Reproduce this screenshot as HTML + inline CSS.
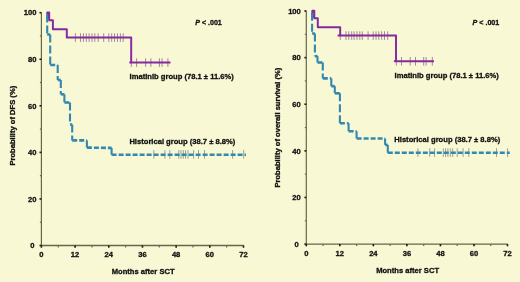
<!DOCTYPE html>
<html><head><meta charset="utf-8"><title>Kaplan-Meier curves</title>
<style>
html,body{margin:0;padding:0;background:#f8f8d4;}
body{width:520px;height:282px;overflow:hidden;}
svg{display:block;will-change:transform;}
</style></head>
<body>
<svg width="520" height="282" viewBox="0 0 520 282">
<rect width="520" height="282" fill="#f8f8d4"/>
<line x1="41.4" y1="12.4" x2="41.4" y2="245.5" stroke="#66664a" stroke-width="1.2"/>
<line x1="41.4" y1="245.5" x2="243.8" y2="245.5" stroke="#66664a" stroke-width="1.35"/>
<line x1="39.5" y1="245.5" x2="41.4" y2="245.5" stroke="#1a1a10" stroke-width="1.6"/>
<line x1="39.9" y1="222.22" x2="41.4" y2="222.22" stroke="#6a6a55" stroke-width="1.2"/>
<line x1="39.5" y1="198.94" x2="41.4" y2="198.94" stroke="#1a1a10" stroke-width="1.6"/>
<line x1="39.9" y1="175.66" x2="41.4" y2="175.66" stroke="#6a6a55" stroke-width="1.2"/>
<line x1="39.5" y1="152.38" x2="41.4" y2="152.38" stroke="#1a1a10" stroke-width="1.6"/>
<line x1="39.9" y1="129.1" x2="41.4" y2="129.1" stroke="#6a6a55" stroke-width="1.2"/>
<line x1="39.5" y1="105.82" x2="41.4" y2="105.82" stroke="#1a1a10" stroke-width="1.6"/>
<line x1="39.9" y1="82.54" x2="41.4" y2="82.54" stroke="#6a6a55" stroke-width="1.2"/>
<line x1="39.5" y1="59.26" x2="41.4" y2="59.26" stroke="#1a1a10" stroke-width="1.6"/>
<line x1="39.9" y1="35.98" x2="41.4" y2="35.98" stroke="#6a6a55" stroke-width="1.2"/>
<line x1="39.5" y1="12.7" x2="41.4" y2="12.7" stroke="#1a1a10" stroke-width="1.6"/>
<line x1="41.4" y1="245.5" x2="41.4" y2="247.7" stroke="#1a1a10" stroke-width="1.6"/>
<line x1="58.24" y1="245.5" x2="58.24" y2="247.5" stroke="#6a6a55" stroke-width="1.2"/>
<line x1="75.08" y1="245.5" x2="75.08" y2="247.7" stroke="#1a1a10" stroke-width="1.6"/>
<line x1="91.92" y1="245.5" x2="91.92" y2="247.5" stroke="#6a6a55" stroke-width="1.2"/>
<line x1="108.77" y1="245.5" x2="108.77" y2="247.7" stroke="#1a1a10" stroke-width="1.6"/>
<line x1="125.61" y1="245.5" x2="125.61" y2="247.5" stroke="#6a6a55" stroke-width="1.2"/>
<line x1="142.45" y1="245.5" x2="142.45" y2="247.7" stroke="#1a1a10" stroke-width="1.6"/>
<line x1="159.29" y1="245.5" x2="159.29" y2="247.5" stroke="#6a6a55" stroke-width="1.2"/>
<line x1="176.13" y1="245.5" x2="176.13" y2="247.7" stroke="#1a1a10" stroke-width="1.6"/>
<line x1="192.97" y1="245.5" x2="192.97" y2="247.5" stroke="#6a6a55" stroke-width="1.2"/>
<line x1="209.82" y1="245.5" x2="209.82" y2="247.7" stroke="#1a1a10" stroke-width="1.6"/>
<line x1="226.66" y1="245.5" x2="226.66" y2="247.5" stroke="#6a6a55" stroke-width="1.2"/>
<line x1="243.5" y1="245.5" x2="243.5" y2="247.7" stroke="#1a1a10" stroke-width="1.6"/>
<text x="34.4" y="248.2" text-anchor="end" font-family="Liberation Sans, sans-serif" font-weight="bold" stroke="#111" stroke-width="0.3" font-size="7.6" fill="#111">0</text>
<text x="36.4" y="201.64" text-anchor="end" font-family="Liberation Sans, sans-serif" font-weight="bold" stroke="#111" stroke-width="0.3" font-size="7.6" fill="#111">20</text>
<text x="36.4" y="155.08" text-anchor="end" font-family="Liberation Sans, sans-serif" font-weight="bold" stroke="#111" stroke-width="0.3" font-size="7.6" fill="#111">40</text>
<text x="36.4" y="108.52" text-anchor="end" font-family="Liberation Sans, sans-serif" font-weight="bold" stroke="#111" stroke-width="0.3" font-size="7.6" fill="#111">60</text>
<text x="36.4" y="61.96" text-anchor="end" font-family="Liberation Sans, sans-serif" font-weight="bold" stroke="#111" stroke-width="0.3" font-size="7.6" fill="#111">80</text>
<text x="36.4" y="15.4" text-anchor="end" font-family="Liberation Sans, sans-serif" font-weight="bold" stroke="#111" stroke-width="0.3" font-size="7.6" fill="#111">100</text>
<text x="41.4" y="257.3" text-anchor="middle" font-family="Liberation Sans, sans-serif" font-weight="bold" stroke="#111" stroke-width="0.3" font-size="7.6" fill="#111">0</text>
<text x="75.08" y="257.3" text-anchor="middle" font-family="Liberation Sans, sans-serif" font-weight="bold" stroke="#111" stroke-width="0.3" font-size="7.6" fill="#111">12</text>
<text x="108.77" y="257.3" text-anchor="middle" font-family="Liberation Sans, sans-serif" font-weight="bold" stroke="#111" stroke-width="0.3" font-size="7.6" fill="#111">24</text>
<text x="142.45" y="257.3" text-anchor="middle" font-family="Liberation Sans, sans-serif" font-weight="bold" stroke="#111" stroke-width="0.3" font-size="7.6" fill="#111">36</text>
<text x="176.13" y="257.3" text-anchor="middle" font-family="Liberation Sans, sans-serif" font-weight="bold" stroke="#111" stroke-width="0.3" font-size="7.6" fill="#111">48</text>
<text x="209.82" y="257.3" text-anchor="middle" font-family="Liberation Sans, sans-serif" font-weight="bold" stroke="#111" stroke-width="0.3" font-size="7.6" fill="#111">60</text>
<text x="243.5" y="257.3" text-anchor="middle" font-family="Liberation Sans, sans-serif" font-weight="bold" stroke="#111" stroke-width="0.3" font-size="7.6" fill="#111">72</text>
<text x="143.15" y="274.3" text-anchor="middle" font-family="Liberation Sans, sans-serif" font-weight="bold" stroke="#111" stroke-width="0.3" font-size="7.6" fill="#111">Months after SCT</text>
<text transform="translate(14.9,125.7) rotate(-90) scale(1.135,1)" x="0" y="0" text-anchor="middle" font-family="Liberation Sans, sans-serif" font-weight="bold" stroke="#111" stroke-width="0.3" font-size="6.7" fill="#111">Probability of DFS (%)</text>
<line x1="75.4" y1="33.3" x2="75.4" y2="41.9" stroke="rgba(95,45,110,0.62)" stroke-width="0.9"/>
<line x1="80.5" y1="33.3" x2="80.5" y2="41.9" stroke="rgba(95,45,110,0.62)" stroke-width="0.9"/>
<line x1="83.4" y1="33.3" x2="83.4" y2="41.9" stroke="rgba(95,45,110,0.62)" stroke-width="0.9"/>
<line x1="86.3" y1="33.3" x2="86.3" y2="41.9" stroke="rgba(95,45,110,0.62)" stroke-width="0.9"/>
<line x1="89.1" y1="33.3" x2="89.1" y2="41.9" stroke="rgba(95,45,110,0.62)" stroke-width="0.9"/>
<line x1="92" y1="33.3" x2="92" y2="41.9" stroke="rgba(95,45,110,0.62)" stroke-width="0.9"/>
<line x1="94.8" y1="33.3" x2="94.8" y2="41.9" stroke="rgba(95,45,110,0.62)" stroke-width="0.9"/>
<line x1="98.2" y1="33.3" x2="98.2" y2="41.9" stroke="rgba(95,45,110,0.62)" stroke-width="0.9"/>
<line x1="103.7" y1="33.3" x2="103.7" y2="41.9" stroke="rgba(95,45,110,0.62)" stroke-width="0.9"/>
<line x1="108.8" y1="33.3" x2="108.8" y2="41.9" stroke="rgba(95,45,110,0.62)" stroke-width="0.9"/>
<line x1="111.7" y1="33.3" x2="111.7" y2="41.9" stroke="rgba(95,45,110,0.62)" stroke-width="0.9"/>
<line x1="114.6" y1="33.3" x2="114.6" y2="41.9" stroke="rgba(95,45,110,0.62)" stroke-width="0.9"/>
<line x1="117.5" y1="33.3" x2="117.5" y2="41.9" stroke="rgba(95,45,110,0.62)" stroke-width="0.9"/>
<line x1="120.4" y1="33.3" x2="120.4" y2="41.9" stroke="rgba(95,45,110,0.62)" stroke-width="0.9"/>
<line x1="123.2" y1="33.3" x2="123.2" y2="41.9" stroke="rgba(95,45,110,0.62)" stroke-width="0.9"/>
<line x1="131.3" y1="58.3" x2="131.3" y2="66.9" stroke="rgba(95,45,110,0.62)" stroke-width="0.9"/>
<line x1="136.6" y1="58.3" x2="136.6" y2="66.9" stroke="rgba(95,45,110,0.62)" stroke-width="0.9"/>
<line x1="145.6" y1="58.3" x2="145.6" y2="66.9" stroke="rgba(95,45,110,0.62)" stroke-width="0.9"/>
<line x1="150.9" y1="58.3" x2="150.9" y2="66.9" stroke="rgba(95,45,110,0.62)" stroke-width="0.9"/>
<line x1="159.4" y1="58.3" x2="159.4" y2="66.9" stroke="rgba(95,45,110,0.62)" stroke-width="0.9"/>
<line x1="162" y1="58.3" x2="162" y2="66.9" stroke="rgba(95,45,110,0.62)" stroke-width="0.9"/>
<line x1="167.9" y1="58.3" x2="167.9" y2="66.9" stroke="rgba(95,45,110,0.62)" stroke-width="0.9"/>
<line x1="153.8" y1="150.1" x2="153.8" y2="158.7" stroke="rgba(70,85,90,0.6)" stroke-width="0.9"/>
<line x1="164.9" y1="150.1" x2="164.9" y2="158.7" stroke="rgba(70,85,90,0.6)" stroke-width="0.9"/>
<line x1="169.8" y1="150.1" x2="169.8" y2="158.7" stroke="rgba(70,85,90,0.6)" stroke-width="0.9"/>
<line x1="178.8" y1="150.1" x2="178.8" y2="158.7" stroke="rgba(70,85,90,0.6)" stroke-width="0.9"/>
<line x1="181" y1="150.1" x2="181" y2="158.7" stroke="rgba(70,85,90,0.6)" stroke-width="0.9"/>
<line x1="183.3" y1="150.1" x2="183.3" y2="158.7" stroke="rgba(70,85,90,0.6)" stroke-width="0.9"/>
<line x1="185.6" y1="150.1" x2="185.6" y2="158.7" stroke="rgba(70,85,90,0.6)" stroke-width="0.9"/>
<line x1="188" y1="150.1" x2="188" y2="158.7" stroke="rgba(70,85,90,0.6)" stroke-width="0.9"/>
<line x1="193.6" y1="150.1" x2="193.6" y2="158.7" stroke="rgba(70,85,90,0.6)" stroke-width="0.9"/>
<line x1="198.5" y1="150.1" x2="198.5" y2="158.7" stroke="rgba(70,85,90,0.6)" stroke-width="0.9"/>
<line x1="204.5" y1="150.1" x2="204.5" y2="158.7" stroke="rgba(70,85,90,0.6)" stroke-width="0.9"/>
<line x1="232.6" y1="150.1" x2="232.6" y2="158.7" stroke="rgba(70,85,90,0.6)" stroke-width="0.9"/>
<line x1="243.7" y1="150.1" x2="243.7" y2="158.7" stroke="rgba(70,85,90,0.6)" stroke-width="0.9"/>
<path d="M47.3,19.5 L47.3,12.4 L49.2,12.4 L49.2,20.3 L52.9,20.3 L52.9,29.2 L66.8,29.2 L66.8,37.4 L131.2,37.4 L131.2,62.5 L170.5,62.5" fill="none" stroke="#85299f" stroke-width="1.95" stroke-linejoin="round"/>
<line x1="129.3" y1="62.5" x2="131.2" y2="62.5" stroke="#85299f" stroke-width="1.95"/>
<line x1="47.2" y1="14.5" x2="47.2" y2="34.5" stroke="#3388b0" stroke-width="2.1" stroke-dasharray="8 3"/>
<line x1="47.2" y1="34.5" x2="50.2" y2="34.5" stroke="#3388b0" stroke-width="2.6" stroke-dasharray="5 2"/>
<line x1="50.2" y1="34.5" x2="50.2" y2="65" stroke="#3388b0" stroke-width="2.1" stroke-dasharray="8 3"/>
<line x1="50.2" y1="65" x2="57.7" y2="65" stroke="#3388b0" stroke-width="2.6" stroke-dasharray="5 2"/>
<line x1="57.7" y1="65" x2="57.7" y2="80" stroke="#3388b0" stroke-width="2.1" stroke-dasharray="8 3"/>
<line x1="57.7" y1="80" x2="60.8" y2="80" stroke="#3388b0" stroke-width="2.6" stroke-dasharray="5 2"/>
<line x1="60.8" y1="80" x2="60.8" y2="94.3" stroke="#3388b0" stroke-width="2.1" stroke-dasharray="8 3"/>
<line x1="60.8" y1="94.3" x2="64.4" y2="94.3" stroke="#3388b0" stroke-width="2.6" stroke-dasharray="5 2"/>
<line x1="64.4" y1="94.3" x2="64.4" y2="102.5" stroke="#3388b0" stroke-width="2.1" stroke-dasharray="8 3"/>
<line x1="64.4" y1="102.5" x2="70" y2="102.5" stroke="#3388b0" stroke-width="2.6" stroke-dasharray="5 2"/>
<line x1="70" y1="102.5" x2="70" y2="124.5" stroke="#3388b0" stroke-width="2.1" stroke-dasharray="8 3"/>
<line x1="70" y1="124.5" x2="72.2" y2="124.5" stroke="#3388b0" stroke-width="2.6" stroke-dasharray="5 2"/>
<line x1="72.2" y1="124.5" x2="72.2" y2="140.4" stroke="#3388b0" stroke-width="2.1" stroke-dasharray="8 3"/>
<line x1="72.2" y1="140.4" x2="86.9" y2="140.4" stroke="#3388b0" stroke-width="2.6" stroke-dasharray="5 2"/>
<line x1="86.9" y1="140.4" x2="86.9" y2="147.6" stroke="#3388b0" stroke-width="2.1" stroke-dasharray="8 3"/>
<line x1="86.9" y1="147.6" x2="111.6" y2="147.9" stroke="#3388b0" stroke-width="2.6" stroke-dasharray="5 2"/>
<line x1="111.6" y1="147.9" x2="111.6" y2="154.7" stroke="#3388b0" stroke-width="2.1" stroke-dasharray="8 3"/>
<line x1="111.6" y1="154.7" x2="246" y2="154.7" stroke="#3388b0" stroke-width="2.6" stroke-dasharray="5 2"/>
<text x="129.6" y="78.9" font-family="Liberation Sans, sans-serif" font-weight="bold" stroke="#111" stroke-width="0.3" font-size="7.6" fill="#111">Imatinib group (78.1 ± 11.6%)</text>
<text x="129.4" y="143.9" font-family="Liberation Sans, sans-serif" font-weight="bold" stroke="#111" stroke-width="0.3" font-size="7.6" fill="#111">Historical group (38.7 ± 8.8%)</text>
<text x="195.2" y="25" font-family="Liberation Sans, sans-serif" font-weight="bold" stroke="#111" stroke-width="0.3" font-size="7.1" fill="#111"><tspan font-style="italic">P</tspan> &lt; .001</text>
<line x1="306.3" y1="10.7" x2="306.3" y2="244.1" stroke="#66664a" stroke-width="1.2"/>
<line x1="306.3" y1="244.1" x2="507.8" y2="244.1" stroke="#66664a" stroke-width="1.35"/>
<line x1="304.4" y1="244.1" x2="306.3" y2="244.1" stroke="#1a1a10" stroke-width="1.6"/>
<line x1="304.8" y1="220.79" x2="306.3" y2="220.79" stroke="#6a6a55" stroke-width="1.2"/>
<line x1="304.4" y1="197.48" x2="306.3" y2="197.48" stroke="#1a1a10" stroke-width="1.6"/>
<line x1="304.8" y1="174.17" x2="306.3" y2="174.17" stroke="#6a6a55" stroke-width="1.2"/>
<line x1="304.4" y1="150.86" x2="306.3" y2="150.86" stroke="#1a1a10" stroke-width="1.6"/>
<line x1="304.8" y1="127.55" x2="306.3" y2="127.55" stroke="#6a6a55" stroke-width="1.2"/>
<line x1="304.4" y1="104.24" x2="306.3" y2="104.24" stroke="#1a1a10" stroke-width="1.6"/>
<line x1="304.8" y1="80.93" x2="306.3" y2="80.93" stroke="#6a6a55" stroke-width="1.2"/>
<line x1="304.4" y1="57.62" x2="306.3" y2="57.62" stroke="#1a1a10" stroke-width="1.6"/>
<line x1="304.8" y1="34.31" x2="306.3" y2="34.31" stroke="#6a6a55" stroke-width="1.2"/>
<line x1="304.4" y1="11" x2="306.3" y2="11" stroke="#1a1a10" stroke-width="1.6"/>
<line x1="306.3" y1="244.1" x2="306.3" y2="246.3" stroke="#1a1a10" stroke-width="1.6"/>
<line x1="323.07" y1="244.1" x2="323.07" y2="246.1" stroke="#6a6a55" stroke-width="1.2"/>
<line x1="339.83" y1="244.1" x2="339.83" y2="246.3" stroke="#1a1a10" stroke-width="1.6"/>
<line x1="356.6" y1="244.1" x2="356.6" y2="246.1" stroke="#6a6a55" stroke-width="1.2"/>
<line x1="373.37" y1="244.1" x2="373.37" y2="246.3" stroke="#1a1a10" stroke-width="1.6"/>
<line x1="390.13" y1="244.1" x2="390.13" y2="246.1" stroke="#6a6a55" stroke-width="1.2"/>
<line x1="406.9" y1="244.1" x2="406.9" y2="246.3" stroke="#1a1a10" stroke-width="1.6"/>
<line x1="423.67" y1="244.1" x2="423.67" y2="246.1" stroke="#6a6a55" stroke-width="1.2"/>
<line x1="440.43" y1="244.1" x2="440.43" y2="246.3" stroke="#1a1a10" stroke-width="1.6"/>
<line x1="457.2" y1="244.1" x2="457.2" y2="246.1" stroke="#6a6a55" stroke-width="1.2"/>
<line x1="473.97" y1="244.1" x2="473.97" y2="246.3" stroke="#1a1a10" stroke-width="1.6"/>
<line x1="490.73" y1="244.1" x2="490.73" y2="246.1" stroke="#6a6a55" stroke-width="1.2"/>
<line x1="507.5" y1="244.1" x2="507.5" y2="246.3" stroke="#1a1a10" stroke-width="1.6"/>
<text x="298.8" y="246.8" text-anchor="end" font-family="Liberation Sans, sans-serif" font-weight="bold" stroke="#111" stroke-width="0.3" font-size="7.6" fill="#111">0</text>
<text x="300.8" y="200.18" text-anchor="end" font-family="Liberation Sans, sans-serif" font-weight="bold" stroke="#111" stroke-width="0.3" font-size="7.6" fill="#111">20</text>
<text x="300.8" y="153.56" text-anchor="end" font-family="Liberation Sans, sans-serif" font-weight="bold" stroke="#111" stroke-width="0.3" font-size="7.6" fill="#111">40</text>
<text x="300.8" y="106.94" text-anchor="end" font-family="Liberation Sans, sans-serif" font-weight="bold" stroke="#111" stroke-width="0.3" font-size="7.6" fill="#111">60</text>
<text x="300.8" y="60.32" text-anchor="end" font-family="Liberation Sans, sans-serif" font-weight="bold" stroke="#111" stroke-width="0.3" font-size="7.6" fill="#111">80</text>
<text x="300.8" y="13.7" text-anchor="end" font-family="Liberation Sans, sans-serif" font-weight="bold" stroke="#111" stroke-width="0.3" font-size="7.6" fill="#111">100</text>
<text x="306.3" y="255.9" text-anchor="middle" font-family="Liberation Sans, sans-serif" font-weight="bold" stroke="#111" stroke-width="0.3" font-size="7.6" fill="#111">0</text>
<text x="339.83" y="255.9" text-anchor="middle" font-family="Liberation Sans, sans-serif" font-weight="bold" stroke="#111" stroke-width="0.3" font-size="7.6" fill="#111">12</text>
<text x="373.37" y="255.9" text-anchor="middle" font-family="Liberation Sans, sans-serif" font-weight="bold" stroke="#111" stroke-width="0.3" font-size="7.6" fill="#111">24</text>
<text x="406.9" y="255.9" text-anchor="middle" font-family="Liberation Sans, sans-serif" font-weight="bold" stroke="#111" stroke-width="0.3" font-size="7.6" fill="#111">36</text>
<text x="440.43" y="255.9" text-anchor="middle" font-family="Liberation Sans, sans-serif" font-weight="bold" stroke="#111" stroke-width="0.3" font-size="7.6" fill="#111">48</text>
<text x="473.97" y="255.9" text-anchor="middle" font-family="Liberation Sans, sans-serif" font-weight="bold" stroke="#111" stroke-width="0.3" font-size="7.6" fill="#111">60</text>
<text x="507.5" y="255.9" text-anchor="middle" font-family="Liberation Sans, sans-serif" font-weight="bold" stroke="#111" stroke-width="0.3" font-size="7.6" fill="#111">72</text>
<text x="407.6" y="272.9" text-anchor="middle" font-family="Liberation Sans, sans-serif" font-weight="bold" stroke="#111" stroke-width="0.3" font-size="7.6" fill="#111">Months after SCT</text>
<text transform="translate(279.5,127.65) rotate(-90) scale(1.135,1)" x="0" y="0" text-anchor="middle" font-family="Liberation Sans, sans-serif" font-weight="bold" stroke="#111" stroke-width="0.3" font-size="6.7" fill="#111">Probability of overall survival (%)</text>
<line x1="340.3" y1="31.3" x2="340.3" y2="39.9" stroke="rgba(95,45,110,0.62)" stroke-width="0.9"/>
<line x1="346" y1="31.3" x2="346" y2="39.9" stroke="rgba(95,45,110,0.62)" stroke-width="0.9"/>
<line x1="348.8" y1="31.3" x2="348.8" y2="39.9" stroke="rgba(95,45,110,0.62)" stroke-width="0.9"/>
<line x1="351.7" y1="31.3" x2="351.7" y2="39.9" stroke="rgba(95,45,110,0.62)" stroke-width="0.9"/>
<line x1="354.1" y1="31.3" x2="354.1" y2="39.9" stroke="rgba(95,45,110,0.62)" stroke-width="0.9"/>
<line x1="357" y1="31.3" x2="357" y2="39.9" stroke="rgba(95,45,110,0.62)" stroke-width="0.9"/>
<line x1="359.8" y1="31.3" x2="359.8" y2="39.9" stroke="rgba(95,45,110,0.62)" stroke-width="0.9"/>
<line x1="362.3" y1="31.3" x2="362.3" y2="39.9" stroke="rgba(95,45,110,0.62)" stroke-width="0.9"/>
<line x1="368.1" y1="31.3" x2="368.1" y2="39.9" stroke="rgba(95,45,110,0.62)" stroke-width="0.9"/>
<line x1="373.2" y1="31.3" x2="373.2" y2="39.9" stroke="rgba(95,45,110,0.62)" stroke-width="0.9"/>
<line x1="376" y1="31.3" x2="376" y2="39.9" stroke="rgba(95,45,110,0.62)" stroke-width="0.9"/>
<line x1="378.8" y1="31.3" x2="378.8" y2="39.9" stroke="rgba(95,45,110,0.62)" stroke-width="0.9"/>
<line x1="381.7" y1="31.3" x2="381.7" y2="39.9" stroke="rgba(95,45,110,0.62)" stroke-width="0.9"/>
<line x1="384.5" y1="31.3" x2="384.5" y2="39.9" stroke="rgba(95,45,110,0.62)" stroke-width="0.9"/>
<line x1="387.7" y1="31.3" x2="387.7" y2="39.9" stroke="rgba(95,45,110,0.62)" stroke-width="0.9"/>
<line x1="396.3" y1="57" x2="396.3" y2="65.6" stroke="rgba(95,45,110,0.62)" stroke-width="0.9"/>
<line x1="401.5" y1="57" x2="401.5" y2="65.6" stroke="rgba(95,45,110,0.62)" stroke-width="0.9"/>
<line x1="410.2" y1="57" x2="410.2" y2="65.6" stroke="rgba(95,45,110,0.62)" stroke-width="0.9"/>
<line x1="415.5" y1="57" x2="415.5" y2="65.6" stroke="rgba(95,45,110,0.62)" stroke-width="0.9"/>
<line x1="423.7" y1="57" x2="423.7" y2="65.6" stroke="rgba(95,45,110,0.62)" stroke-width="0.9"/>
<line x1="426.1" y1="57" x2="426.1" y2="65.6" stroke="rgba(95,45,110,0.62)" stroke-width="0.9"/>
<line x1="432.3" y1="57" x2="432.3" y2="65.6" stroke="rgba(95,45,110,0.62)" stroke-width="0.9"/>
<line x1="417.9" y1="148.3" x2="417.9" y2="156.9" stroke="rgba(70,85,90,0.6)" stroke-width="0.9"/>
<line x1="429.7" y1="148.3" x2="429.7" y2="156.9" stroke="rgba(70,85,90,0.6)" stroke-width="0.9"/>
<line x1="434.6" y1="148.3" x2="434.6" y2="156.9" stroke="rgba(70,85,90,0.6)" stroke-width="0.9"/>
<line x1="443.3" y1="148.3" x2="443.3" y2="156.9" stroke="rgba(70,85,90,0.6)" stroke-width="0.9"/>
<line x1="445.6" y1="148.3" x2="445.6" y2="156.9" stroke="rgba(70,85,90,0.6)" stroke-width="0.9"/>
<line x1="447.9" y1="148.3" x2="447.9" y2="156.9" stroke="rgba(70,85,90,0.6)" stroke-width="0.9"/>
<line x1="450.3" y1="148.3" x2="450.3" y2="156.9" stroke="rgba(70,85,90,0.6)" stroke-width="0.9"/>
<line x1="452.7" y1="148.3" x2="452.7" y2="156.9" stroke="rgba(70,85,90,0.6)" stroke-width="0.9"/>
<line x1="457.2" y1="148.3" x2="457.2" y2="156.9" stroke="rgba(70,85,90,0.6)" stroke-width="0.9"/>
<line x1="463.1" y1="148.3" x2="463.1" y2="156.9" stroke="rgba(70,85,90,0.6)" stroke-width="0.9"/>
<line x1="468.8" y1="148.3" x2="468.8" y2="156.9" stroke="rgba(70,85,90,0.6)" stroke-width="0.9"/>
<line x1="496.5" y1="148.3" x2="496.5" y2="156.9" stroke="rgba(70,85,90,0.6)" stroke-width="0.9"/>
<line x1="507.6" y1="148.3" x2="507.6" y2="156.9" stroke="rgba(70,85,90,0.6)" stroke-width="0.9"/>
<path d="M312.3,18 L312.3,10.8 L314.3,10.8 L314.3,18.3 L317.8,18.3 L317.8,27.2 L340.2,27.2 L340.2,35.5 L396,35.5 L396,61.2 L434,61.2" fill="none" stroke="#85299f" stroke-width="1.95" stroke-linejoin="round"/>
<line x1="337.6" y1="35.5" x2="340.2" y2="35.5" stroke="#85299f" stroke-width="1.95"/>
<line x1="393.9" y1="61.2" x2="396" y2="61.2" stroke="#85299f" stroke-width="1.95"/>
<line x1="312.1" y1="12.8" x2="312.1" y2="33.5" stroke="#3388b0" stroke-width="2.1" stroke-dasharray="8 3"/>
<line x1="312.1" y1="33.5" x2="314.9" y2="33.5" stroke="#3388b0" stroke-width="2.6" stroke-dasharray="5 2"/>
<line x1="314.9" y1="33.5" x2="314.9" y2="56.2" stroke="#3388b0" stroke-width="2.1" stroke-dasharray="8 3"/>
<line x1="314.9" y1="56.2" x2="317.5" y2="56.2" stroke="#3388b0" stroke-width="2.6" stroke-dasharray="5 2"/>
<line x1="317.5" y1="56.2" x2="317.5" y2="62.5" stroke="#3388b0" stroke-width="2.1" stroke-dasharray="8 3"/>
<line x1="317.5" y1="62.5" x2="322.8" y2="62.5" stroke="#3388b0" stroke-width="2.6" stroke-dasharray="5 2"/>
<line x1="322.8" y1="62.5" x2="322.8" y2="78.4" stroke="#3388b0" stroke-width="2.1" stroke-dasharray="8 3"/>
<line x1="322.8" y1="78.4" x2="331.3" y2="78.4" stroke="#3388b0" stroke-width="2.6" stroke-dasharray="5 2"/>
<line x1="331.3" y1="78.4" x2="331.3" y2="86.2" stroke="#3388b0" stroke-width="2.1" stroke-dasharray="8 3"/>
<line x1="331.3" y1="86.2" x2="334.8" y2="86.2" stroke="#3388b0" stroke-width="2.6" stroke-dasharray="5 2"/>
<line x1="334.8" y1="86.2" x2="334.8" y2="93.3" stroke="#3388b0" stroke-width="2.1" stroke-dasharray="8 3"/>
<line x1="334.8" y1="93.3" x2="339.9" y2="93.3" stroke="#3388b0" stroke-width="2.6" stroke-dasharray="5 2"/>
<line x1="339.9" y1="93.3" x2="339.9" y2="123.3" stroke="#3388b0" stroke-width="2.1" stroke-dasharray="8 3"/>
<line x1="339.9" y1="123.3" x2="348.6" y2="123.3" stroke="#3388b0" stroke-width="2.6" stroke-dasharray="5 2"/>
<line x1="348.6" y1="123.3" x2="348.6" y2="131.3" stroke="#3388b0" stroke-width="2.1" stroke-dasharray="8 3"/>
<line x1="348.6" y1="131.3" x2="356.6" y2="131.3" stroke="#3388b0" stroke-width="2.6" stroke-dasharray="5 2"/>
<line x1="356.6" y1="131.3" x2="356.6" y2="138.5" stroke="#3388b0" stroke-width="2.1" stroke-dasharray="8 3"/>
<line x1="356.6" y1="138.5" x2="385.1" y2="138.5" stroke="#3388b0" stroke-width="2.6" stroke-dasharray="5 2"/>
<line x1="385.1" y1="138.5" x2="385.1" y2="144.9" stroke="#3388b0" stroke-width="2.1" stroke-dasharray="8 3"/>
<line x1="385.1" y1="144.9" x2="387.8" y2="144.9" stroke="#3388b0" stroke-width="2.6" stroke-dasharray="5 2"/>
<line x1="387.8" y1="144.9" x2="387.8" y2="152.8" stroke="#3388b0" stroke-width="2.1" stroke-dasharray="8 3"/>
<line x1="387.8" y1="152.8" x2="509.7" y2="152.8" stroke="#3388b0" stroke-width="2.6" stroke-dasharray="5 2"/>
<text x="394.6" y="77.5" font-family="Liberation Sans, sans-serif" font-weight="bold" stroke="#111" stroke-width="0.3" font-size="7.6" fill="#111">Imatinib group (78.1 ± 11.6%)</text>
<text x="394.3" y="142.2" font-family="Liberation Sans, sans-serif" font-weight="bold" stroke="#111" stroke-width="0.3" font-size="7.6" fill="#111">Historical group (38.7 ± 8.8%)</text>
<text x="472.6" y="24.7" font-family="Liberation Sans, sans-serif" font-weight="bold" stroke="#111" stroke-width="0.3" font-size="7.1" fill="#111"><tspan font-style="italic">P</tspan> &lt; .001</text>
</svg>
</body></html>
